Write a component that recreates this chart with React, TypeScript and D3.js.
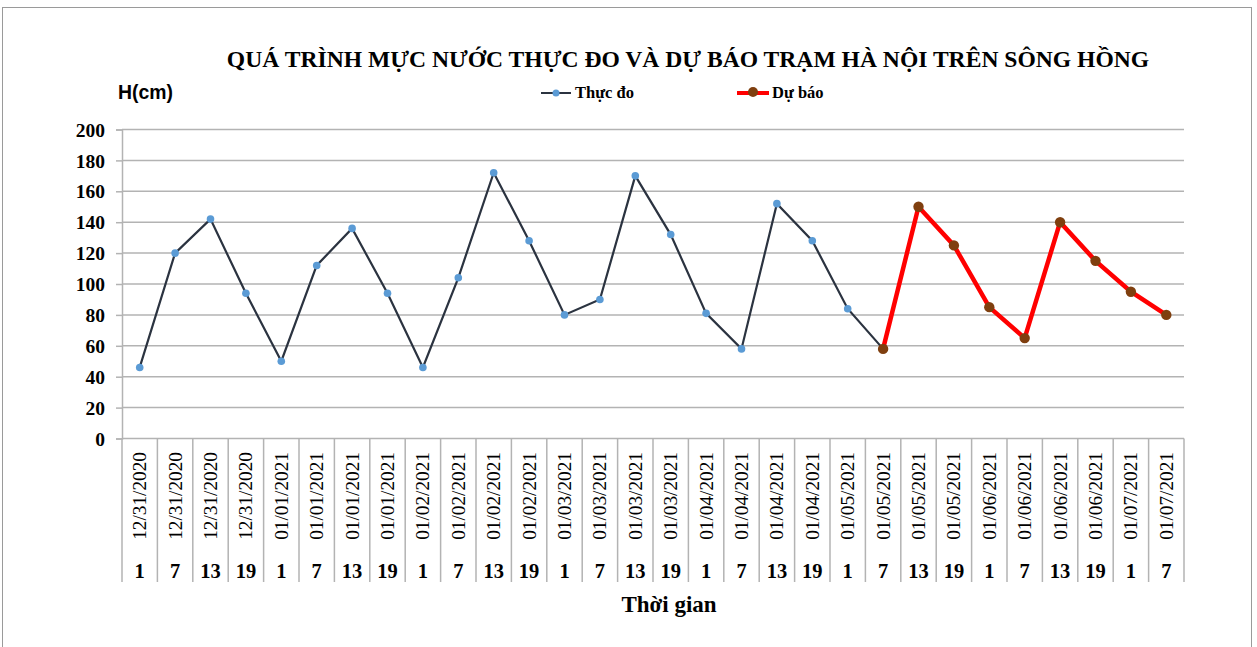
import React, { useEffect, useRef } from "react";
import * as d3 from "d3";

const W = 1257;
const H = 647;
const margin = { top: 129.5, right: 73, bottom: 208.5, left: 122 };

// Categories (date + hour of observation)
const dates = [
  "12/31/2020", "12/31/2020", "12/31/2020", "12/31/2020",
  "01/01/2021", "01/01/2021", "01/01/2021", "01/01/2021",
  "01/02/2021", "01/02/2021", "01/02/2021", "01/02/2021",
  "01/03/2021", "01/03/2021", "01/03/2021", "01/03/2021",
  "01/04/2021", "01/04/2021", "01/04/2021", "01/04/2021",
  "01/05/2021", "01/05/2021", "01/05/2021", "01/05/2021",
  "01/06/2021", "01/06/2021", "01/06/2021", "01/06/2021",
  "01/07/2021", "01/07/2021",
];
const hours = [
  1, 7, 13, 19, 1, 7, 13, 19, 1, 7, 13, 19, 1, 7, 13, 19,
  1, 7, 13, 19, 1, 7, 13, 19, 1, 7, 13, 19, 1, 7,
];

// Thực đo (observed), first 22 categories
const observed = [
  46, 120, 142, 94, 50, 112, 136, 94, 46, 104, 172, 128, 80, 90, 170, 132,
  81, 58, 152, 128, 84, 58,
];
// Dự báo (forecast), starting at category index 21
const forecastStart = 21;
const forecast = [58, 150, 125, 85, 65, 140, 115, 95, 80];

const yTicks = [0, 20, 40, 60, 80, 100, 120, 140, 160, 180, 200];

const serif = "'Liberation Serif', 'Times New Roman', serif";
const sans = "'Liberation Sans', Arial, sans-serif";
const gridColor = "#b3b3b3";
const obsLine = "#2b3340";
const obsDot = "#5b9bd5";
const fcLine = "#ff0000";
const fcDot = "#7f3f0f";

export default function App() {
  const yAxisRef = useRef<SVGGElement>(null);

  const idx = d3.range(dates.length);
  const x = d3
    .scaleBand<number>()
    .domain(idx)
    .range([margin.left, W - margin.right])
    .padding(0);
  const y = d3
    .scaleLinear()
    .domain([0, 200])
    .range([H - margin.bottom, margin.top]);

  const cx = (i: number) => (x(i) as number) + x.bandwidth() / 2;

  const line = d3
    .line<[number, number]>()
    .x((d) => cx(d[0]))
    .y((d) => y(d[1]));

  const obsPts: [number, number][] = observed.map((v, i) => [i, v]);
  const fcPts: [number, number][] = forecast.map((v, i) => [
    forecastStart + i,
    v,
  ]);

  useEffect(() => {
    const g = d3.select(yAxisRef.current);
    g.call(
      d3
        .axisLeft(y)
        .tickValues(yTicks)
        .tickSize(6)
        .tickPadding(11)
        .tickFormat(d3.format("d"))
    );
    g.select(".domain").attr("stroke", gridColor).attr("stroke-width", 1.5);
    g.selectAll(".tick line")
      .attr("stroke", gridColor)
      .attr("stroke-width", 1.5);
    g.selectAll(".tick text")
      .attr("font-family", serif)
      .attr("font-weight", "bold")
      .attr("font-size", 19.5)
      .attr("fill", "#000")
      .attr("dy", "0.34em");
  }, []);

  const x0 = margin.left;
  const x1 = W - margin.right;
  const yBase = y(0);
  const catBottom = 582;

  return (
    <svg
      width={W}
      height={H}
      style={{ position: "absolute", left: 0, top: 0, background: "#fff" }}
    >
      <rect
        x={2.5}
        y={7.5}
        width={1249}
        height={650}
        fill="#fff"
        stroke="#9a9a9a"
        strokeWidth={1}
      />

      <text
        x={688}
        y={67}
        textAnchor="middle"
        fontFamily={serif}
        fontWeight="bold"
        fontSize={23.6}
      >
        QUÁ TRÌNH MỰC NƯỚC THỰC ĐO VÀ DỰ BÁO TRẠM HÀ NỘI TRÊN SÔNG HỒNG
      </text>

      <text
        x={118}
        y={99}
        fontFamily={sans}
        fontWeight="bold"
        fontSize={19.4}
      >
        H(cm)
      </text>

      {/* legend */}
      <g>
        <line x1={541} x2={571} y1={93} y2={93} stroke={obsLine} strokeWidth={2} />
        <circle cx={556} cy={93} r={3.5} fill={obsDot} />
        <text x={575} y={98} fontFamily={serif} fontWeight="bold" fontSize={16.5}>
          Thực đo
        </text>
        <line x1={737} x2={769} y1={93} y2={93} stroke={fcLine} strokeWidth={4} />
        <circle cx={753} cy={92} r={5} fill={fcDot} />
        <text x={772} y={98} fontFamily={serif} fontWeight="bold" fontSize={16.5}>
          Dự báo
        </text>
      </g>

      {/* gridlines */}
      {yTicks.map((t) => (
        <line
          key={t}
          x1={x0}
          x2={x1}
          y1={y(t)}
          y2={y(t)}
          stroke={gridColor}
          strokeWidth={1.5}
        />
      ))}

      <g ref={yAxisRef} transform={`translate(${x0},0)`} />

      {/* category separators */}
      {idx.concat([dates.length]).map((i) => {
        const xx = i < dates.length ? (x(i) as number) : x1;
        return (
          <line
            key={i}
            x1={xx}
            x2={xx}
            y1={yBase}
            y2={catBottom}
            stroke={gridColor}
            strokeWidth={1.5}
          />
        );
      })}

      {/* category labels */}
      {idx.map((i) => (
        <g key={i}>
          <text
            transform={`translate(${cx(i) + 6.5},452) rotate(-90)`}
            textAnchor="end"
            fontFamily={serif}
            fontSize={19.3}
          >
            {dates[i]}
          </text>
          <text
            x={cx(i)}
            y={578}
            textAnchor="middle"
            fontFamily={serif}
            fontWeight="bold"
            fontSize={20.5}
          >
            {hours[i]}
          </text>
        </g>
      ))}

      <text
        x={669}
        y={612}
        textAnchor="middle"
        fontFamily={serif}
        fontWeight="bold"
        fontSize={23}
      >
        Thời gian
      </text>

      {/* observed series */}
      <path d={line(obsPts) ?? ""} fill="none" stroke={obsLine} strokeWidth={2.2} />
      {obsPts.map((d) => (
        <circle key={d[0]} cx={cx(d[0])} cy={y(d[1])} r={3.8} fill={obsDot} />
      ))}

      {/* forecast series */}
      <path d={line(fcPts) ?? ""} fill="none" stroke={fcLine} strokeWidth={4.5} />
      {fcPts.map((d) => (
        <circle key={d[0]} cx={cx(d[0])} cy={y(d[1])} r={5.2} fill={fcDot} />
      ))}
    </svg>
  );
}
